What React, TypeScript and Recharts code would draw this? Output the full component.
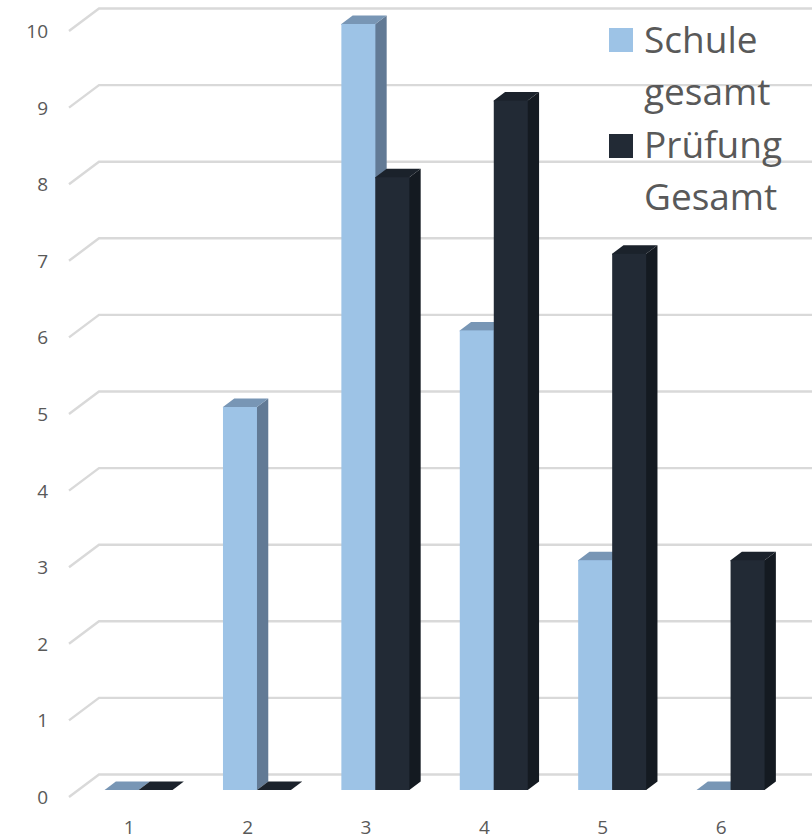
import React from "react";
import { BarChart, Bar, XAxis, YAxis, CartesianGrid } from "recharts";

const categories = ["1", "2", "3", "4", "5", "6"];
const schuleGesamt = [0, 5, 10, 6, 3, 0];
const pruefungGesamt = [0, 0, 8, 9, 7, 3];
const valueTicks = [0, 1, 2, 3, 4, 5, 6, 7, 8, 9, 10];
const legendEntries = [
  { lines: ["Schule", "gesamt"], color: "#9DC3E6" },
  { lines: ["Prüfung", "Gesamt"], color: "#222A35" },
];

const rows = categories.map((category, i) => ({
  category,
  schule: schuleGesamt[i],
  pruefung: pruefungGesamt[i],
}));

const FONT = "'Open Sans', sans-serif";
const TEXT = "#595959";
const GRID = "#D9D9D9";

// Extrusion of the pseudo-3D columns.
const DX = 11.3;
const DY = 8.5;

function makeColumn(front: string, top: string, side: string) {
  return function Column(props: any) {
    const { x, y, width: w, height: h } = props;
    // Faces tuck slightly under the front so no seam shows along shared edges.
    const tuck = h > 0 ? 1 : 0;
    return (
      <g>
        {h > 0 && (
          <polygon
            points={`${x + w - tuck},${y} ${x + w},${y} ${x + w + DX},${y - DY} ${x + w + DX},${y + h - DY} ${x + w},${y + h} ${x + w - tuck},${y + h}`}
            fill={side}
          />
        )}
        <polygon
          points={`${x},${y + tuck} ${x},${y} ${x + DX},${y - DY} ${x + w + DX},${y - DY} ${x + w},${y} ${x + w},${y + tuck}`}
          fill={top}
        />
        {h > 0 && <rect x={x} y={y} width={w} height={h} fill={front} />}
      </g>
    );
  };
}

// Gridline running along the back wall, with its slanted run across the side wall.
function WallLine(props: any) {
  const { y1, index } = props;
  return (
    <polyline
      key={index}
      points={`69,${y1 + 7} 99,${y1 - 15.5} 812,${y1 - 15.5}`}
      fill="none"
      stroke={GRID}
      strokeWidth={2.4}
    />
  );
}

function ValueTick(props: any) {
  const { y, payload } = props;
  return (
    <text x={48} y={y + 14} textAnchor="end" fontFamily={FONT} fontSize={19} fill={TEXT}>
      {payload.value}
    </text>
  );
}

function CategoryTick(props: any) {
  const { x, y, payload } = props;
  return (
    <text x={x - 9} y={y + 36} textAnchor="middle" fontFamily={FONT} fontSize={19} fill={TEXT}>
      {payload.value}
    </text>
  );
}

function LegendBlock() {
  return (
    <div style={{ position: "absolute", left: 609, top: 28, fontFamily: FONT, fontSize: 37, color: TEXT }}>
      {legendEntries.map((entry, i) => (
        <div key={entry.color}>
          <div
            style={{
              position: "absolute",
              left: 0,
              top: i * 106,
              width: 24,
              height: 24,
              background: entry.color,
            }}
          />
          {entry.lines.map((line, j) => (
            <div
              key={line}
              style={{
                position: "absolute",
                left: 35,
                top: i * 105 + j * 52 - 15,
                lineHeight: "52px",
                whiteSpace: "nowrap",
              }}
            >
              {line}
            </div>
          ))}
        </div>
      ))}
    </div>
  );
}

export default function App() {
  return (
    <div style={{ position: "absolute", left: 0, top: 0, width: 812, height: 836 }}>
      <BarChart
        width={812}
        height={836}
        data={rows}
        margin={{ top: 24, right: 22.6, bottom: 0, left: 0 }}
        barCategoryGap="21.6%"
        barGap={0}
      >
        <CartesianGrid vertical={false} horizontal={WallLine} />
        <XAxis
          dataKey="category"
          height={46}
          axisLine={false}
          tickLine={false}
          interval={0}
          tick={CategoryTick}
        />
        <YAxis
          width={79}
          domain={[0, 10]}
          ticks={valueTicks}
          interval={0}
          axisLine={false}
          tickLine={false}
          tick={ValueTick}
        />
        <Bar
          dataKey="schule"
          name="Schule gesamt"
          isAnimationActive={false}
          shape={makeColumn("#9DC3E6", "#7896B5", "#627A95")}
        />
        <Bar
          dataKey="pruefung"
          name="Prüfung Gesamt"
          isAnimationActive={false}
          shape={makeColumn("#222A35", "#1B222B", "#141A21")}
        />
      </BarChart>
      <LegendBlock />
    </div>
  );
}
